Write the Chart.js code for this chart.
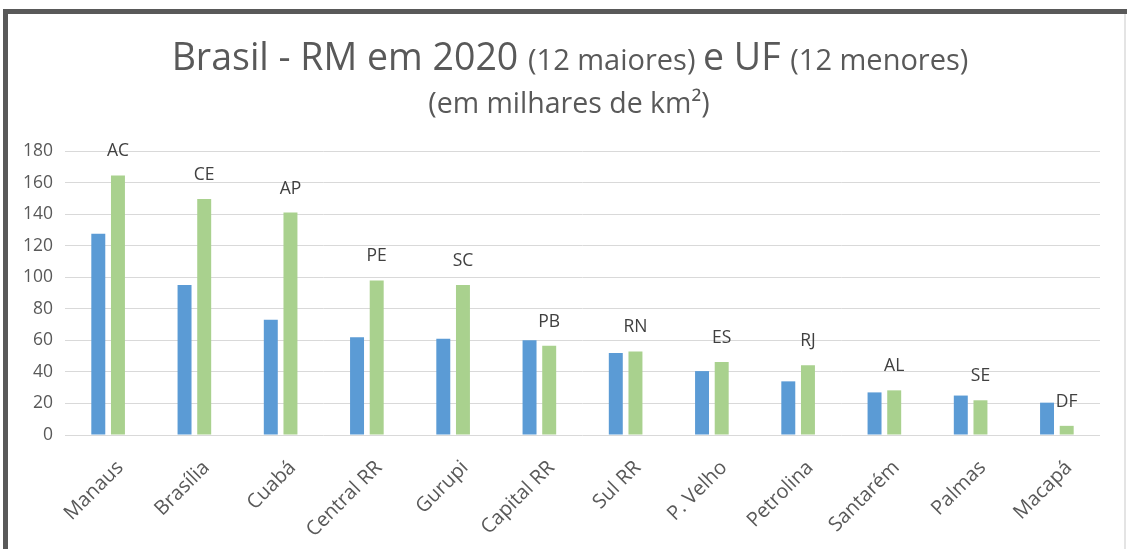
<!DOCTYPE html>
<html>
<head>
<meta charset="utf-8">
<script src="https://cdn.jsdelivr.net/npm/chart.js"></script>
<style>
  html, body { margin: 0; padding: 0; background: #fff; }
  #wrap { position: relative; width: 1127px; height: 549px; overflow: hidden; }
  #frame { position: absolute; left: 3px; top: 9px; right: 0; bottom: -10px;
           border-top: 5px solid #595959; border-left: 5px solid #595959; }
  #edge { position: absolute; left: 1124px; top: 14px; width: 2px; bottom: 0; background: #e4e4e4; }
  canvas { position: absolute; left: 0; top: 0; }
</style>
</head>
<body>
<div id="wrap">
  <div id="frame"></div>
  <div id="edge"></div>
  <canvas id="myChart" width="1127" height="549"></canvas>
</div>
<script>
var categories = ["Manaus", "Brasília", "Cuabá", "Central RR", "Gurupi", "Capital RR",
  "Sul RR", "P. Velho", "Petrolina", "Santarém", "Palmas", "Macapá"];
var rmArea = [127.5, 95, 73, 62, 61, 60, 52, 40.5, 34, 27, 25, 20.5];
var ufArea = [164.5, 149.5, 141, 98, 95, 56.5, 53, 46.3, 44.2, 28.3, 22, 5.8];
var ufLabels = ["AC", "CE", "AP", "PE", "SC", "PB", "RN", "ES", "RJ", "AL", "SE", "DF"];
var yMax = 180;
var yStep = 20;

var textColor = '#595959';
var fontFamily = '"Open Sans", sans-serif';

// title with mixed sizes, drawn segment by segment
var titlePlugin = {
  id: 'mixedTitle',
  afterDraw: function(chart) {
    var ctx = chart.ctx;
    var cx = 570;
    var parts = [
      ["Brasil - RM em 2020 ", 37.5],
      ["(12 maiores) ", 29],
      ["e UF ", 37.5],
      ["(12 menores)", 29]
    ];
    ctx.save();
    ctx.fillStyle = textColor;
    ctx.textBaseline = 'alphabetic';
    ctx.textAlign = 'left';
    var total = 0;
    parts.forEach(function(p) {
      ctx.font = p[1] + 'px ' + fontFamily;
      total += ctx.measureText(p[0]).width;
    });
    var x = cx - total / 2;
    parts.forEach(function(p) {
      ctx.font = p[1] + 'px ' + fontFamily;
      ctx.fillText(p[0], x, 70);
      x += ctx.measureText(p[0]).width;
    });
    ctx.font = '28.5px ' + fontFamily;
    ctx.textAlign = 'center';
    ctx.fillText("(em milhares de km²)", 569, 113);
    ctx.restore();
  }
};

// state abbreviations above the green bars
var ufLabelPlugin = {
  id: 'ufLabels',
  afterDatasetsDraw: function(chart) {
    var ctx = chart.ctx;
    var meta = chart.getDatasetMeta(1);
    ctx.save();
    ctx.font = '17.5px ' + fontFamily;
    ctx.fillStyle = '#404040';
    ctx.textAlign = 'center';
    ctx.textBaseline = 'middle';
    meta.data.forEach(function(bar, i) {
      ctx.fillText(ufLabels[i], bar.x, bar.y - 24);
    });
    ctx.restore();
  }
};

new Chart("myChart", {
  type: "bar",
  data: {
    labels: categories,
    datasets: [{
      label: "RM",
      data: rmArea,
      backgroundColor: '#5b9bd5',
      categoryPercentage: 0.456,
      barPercentage: 0.71
    }, {
      label: "UF",
      data: ufArea,
      backgroundColor: '#a9d18e',
      categoryPercentage: 0.456,
      barPercentage: 0.71
    }]
  },
  options: {
    responsive: false,
    animation: false,
    layout: {
      padding: { top: 151, left: 24, right: 27, bottom: 0 }
    },
    plugins: {
      legend: { display: false },
      title: { display: false },
      tooltip: { enabled: false }
    },
    scales: {
      x: {
        grid: { display: false, drawTicks: false },
        border: { display: false },
        ticks: {
          color: textColor,
          font: { family: fontFamily, size: 20 },
          minRotation: 45,
          maxRotation: 45,
          autoSkip: false,
          padding: 21,
          labelOffset: 12
        },
        afterFit: function(s) { s.height = 114; }
      },
      y: {
        min: 0,
        max: yMax,
        grid: { color: '#d9d9d9', drawTicks: false },
        border: { display: false },
        ticks: {
          stepSize: yStep,
          color: textColor,
          font: { family: fontFamily, size: 17.5 },
          padding: 12
        },
        afterFit: function(s) { s.width = 41; }
      }
    }
  },
  plugins: [titlePlugin, ufLabelPlugin]
});
</script>
</body>
</html>
